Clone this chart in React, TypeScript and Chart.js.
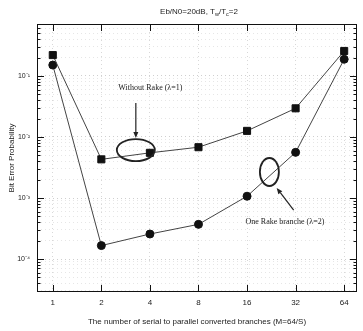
import React, { useEffect, useRef } from 'react';
import { Chart, registerables } from 'chart.js';

Chart.register(...registerables);

// ---- data ----
const categories = ['1', '2', '4', '8', '16', '32', '64'];
const withoutRake = [0.22, 4.3e-3, 5.5e-3, 6.8e-3, 0.0126, 0.0295, 0.257];
const oneRake = [0.151, 1.66e-4, 2.57e-4, 3.7e-4, 1.07e-3, 5.6e-3, 0.188];
const yDecades = [1e-1, 1e-2, 1e-3, 1e-4];
const yDecadeLabels = ['10⁻¹', '10⁻²', '10⁻³', '10⁻⁴'];
const seriesNames = ['Without Rake (λ=1)', 'One Rake branche (λ=2)'];
const xTitle = 'The number of serial to parallel converted branches (M=64/S)';
const yTitle = 'Bit Error Probability';

const Y_MIN = 2.88e-5;
const Y_MAX = 0.711;
const X_MIN = -0.325;
const X_MAX = 6.264;

const SANS = '"Liberation Sans", Arial, sans-serif';
const SERIF = '"Liberation Serif", "Times New Roman", serif';

function minorTicks(): number[] {
  const out: number[] = [];
  for (let e = -5; e <= 0; e++) {
    for (let m = 1; m <= 9; m++) {
      const v = m * Math.pow(10, e);
      if (v >= Y_MIN && v <= Y_MAX) out.push(v);
    }
  }
  return out;
}

function isDecade(v: number) {
  const l = Math.log10(v);
  return Math.abs(l - Math.round(l)) < 1e-6;
}

const decorPlugin = {
  id: 'decor',
  afterDatasetsDraw(chart: any) {
    const { ctx, chartArea } = chart;
    const xs = chart.scales.x;
    const ys = chart.scales.y;
    const { left, right, top, bottom } = chartArea;
    ctx.save();
    // frame
    ctx.strokeStyle = '#111';
    ctx.lineWidth = 1;
    ctx.strokeRect(left + 0.5, top + 0.5, right - left - 1, bottom - top - 1);
    // inward ticks
    ctx.beginPath();
    minorTicks().forEach((v) => {
      const y = Math.round(ys.getPixelForValue(v)) + 0.5;
      const len = isDecade(v) ? 7 : 3.5;
      ctx.moveTo(left, y);
      ctx.lineTo(left + len, y);
      ctx.moveTo(right, y);
      ctx.lineTo(right - len, y);
    });
    categories.forEach((_, i) => {
      const x = Math.round(xs.getPixelForValue(i)) + 0.5;
      ctx.moveTo(x, bottom);
      ctx.lineTo(x, bottom - 7);
      ctx.moveTo(x, top);
      ctx.lineTo(x, top + 7);
    });
    ctx.stroke();

    const P = (xi: number, yv: number) => [xs.getPixelForValue(xi), ys.getPixelForValue(yv)];

    // annotation 1: Without Rake
    ctx.strokeStyle = '#222';
    ctx.fillStyle = '#222';
    ctx.lineWidth = 1.8;
    let [cx, cy] = P(1.71, 6.1e-3);
    ctx.beginPath();
    ctx.ellipse(cx, cy, 19, 11, 0, 0, Math.PI * 2);
    ctx.stroke();
    let [ax0, ay0] = P(1.71, 0.036);
    let [ax1, ay1] = P(1.71, 9.6e-3);
    drawArrow(ctx, ax0, ay0, ax1, ay1);

    // annotation 2: One Rake branche
    ctx.lineWidth = 1.8;
    [cx, cy] = P(4.46, 2.67e-3);
    ctx.beginPath();
    ctx.ellipse(cx, cy, 9.5, 14, 0, 0, Math.PI * 2);
    ctx.stroke();
    [ax0, ay0] = P(4.96, 6.35e-4);
    [ax1, ay1] = P(4.61, 1.46e-3);
    drawArrow(ctx, ax0, ay0, ax1, ay1);

    // texts
    ctx.fillStyle = '#222';
    ctx.font = `8px ${SERIF}`;
    ctx.textAlign = 'center';
    ctx.textBaseline = 'middle';
    let [tx, ty] = P(2.01, 0.0636);
    ctx.fillText(seriesNames[0], tx, ty);
    [tx, ty] = P(4.78, 4.05e-4);
    ctx.fillText(seriesNames[1], tx, ty);

    // title with subscripts
    const parts: [string, boolean][] = [
      ['Eb/N0=20dB, T', false],
      ['w', true],
      ['/T', false],
      ['c', true],
      ['=2', false],
    ];
    const fMain = `8px ${SANS}`;
    const fSub = `5.5px ${SANS}`;
    let total = 0;
    parts.forEach(([t, s]) => {
      ctx.font = s ? fSub : fMain;
      total += ctx.measureText(t).width;
    });
    let x = (left + right) / 2 + 2 - total / 2;
    const yT = 12;
    ctx.textAlign = 'left';
    ctx.textBaseline = 'middle';
    ctx.fillStyle = '#222';
    parts.forEach(([t, s]) => {
      ctx.font = s ? fSub : fMain;
      ctx.fillText(t, x, s ? yT + 2.5 : yT);
      x += ctx.measureText(t).width;
    });
    ctx.restore();
  },
};

function drawArrow(ctx: CanvasRenderingContext2D, x0: number, y0: number, x1: number, y1: number) {
  ctx.lineWidth = 1.2;
  const ang = Math.atan2(y1 - y0, x1 - x0);
  const hl = 6;
  const hw = 2.5;
  const bx = x1 - hl * Math.cos(ang);
  const by = y1 - hl * Math.sin(ang);
  ctx.beginPath();
  ctx.moveTo(x0, y0);
  ctx.lineTo(bx, by);
  ctx.stroke();
  ctx.beginPath();
  ctx.moveTo(x1, y1);
  ctx.lineTo(bx + hw * Math.sin(ang), by - hw * Math.cos(ang));
  ctx.lineTo(bx - hw * Math.sin(ang), by + hw * Math.cos(ang));
  ctx.closePath();
  ctx.fill();
}

export default function App() {
  const ref = useRef<HTMLCanvasElement | null>(null);
  useEffect(() => {
    document.body.style.margin = '0';
    const canvas = ref.current;
    if (!canvas) return;
    const chart = new Chart(canvas, {
      type: 'line',
      data: {
        datasets: [
          {
            label: seriesNames[0],
            data: withoutRake.map((v, i) => ({ x: i, y: v })),
            borderColor: '#444',
            borderWidth: 1,
            pointStyle: 'rect',
            pointRadius: 5,
            pointBackgroundColor: '#111',
            pointBorderColor: '#111',
            pointBorderWidth: 1,
            tension: 0,
          },
          {
            label: seriesNames[1],
            data: oneRake.map((v, i) => ({ x: i, y: v })),
            borderColor: '#444',
            borderWidth: 1,
            pointStyle: 'circle',
            pointRadius: 4,
            pointBackgroundColor: '#111',
            pointBorderColor: '#111',
            pointBorderWidth: 1,
            tension: 0,
          },
        ],
      },
      options: {
        animation: false,
        responsive: true,
        maintainAspectRatio: false,
        layout: { padding: { top: 24, right: 2, left: 0, bottom: 0 } },
        plugins: {
          legend: { display: false },
          tooltip: { enabled: false },
          title: { display: false },
        },
        scales: {
          x: {
            type: 'linear',
            min: X_MIN,
            max: X_MAX,
            afterBuildTicks: (scale: any) => {
              scale.ticks = categories.map((_, i) => ({ value: i }));
            },
            afterFit: (scale: any) => {
              scale.height = 39;
            },
            ticks: {
              callback: (v: any) => categories[Math.round(Number(v))] ?? '',
              font: { family: SANS, size: 8 },
              color: '#222',
              padding: 6,
              autoSkip: false,
              maxRotation: 0,
            },
            grid: {
              drawTicks: false,
              color: '#d8d8d8',
              lineWidth: 1,
            },
            border: { display: false, dash: [1, 3] },
            title: {
              display: true,
              text: xTitle,
              font: { family: SANS, size: 8 },
              color: '#222',
              padding: { top: 0, bottom: 4 },
            },
          },
          y: {
            type: 'logarithmic',
            min: Y_MIN,
            max: Y_MAX,
            afterBuildTicks: (scale: any) => {
              scale.ticks = minorTicks().map((v) => ({ value: v, major: isDecade(v) }));
            },
            afterFit: (scale: any) => {
              scale.width = 37;
            },
            ticks: {
              callback: (v: any) => {
                const idx = yDecades.findIndex((d) => Math.abs(d - Number(v)) / d < 1e-6);
                return idx >= 0 ? yDecadeLabels[idx] : '';
              },
              font: { family: SANS, size: 7 },
              color: '#222',
              padding: 7,
              autoSkip: false,
            },
            grid: {
              drawTicks: false,
              color: (c: any) => (c.tick && c.tick.major ? '#cfcfcf' : '#e6e6e6'),
              lineWidth: 1,
            },
            border: { display: false, dash: [1, 3] },
            title: {
              display: true,
              text: yTitle,
              font: { family: SANS, size: 8 },
              color: '#222',
              padding: { top: 7, bottom: 0 },
            },
          },
        },
      },
      plugins: [decorPlugin],
    });
    return () => chart.destroy();
  }, []);
  return (
    <div style={{ width: 363, height: 331, position: 'relative', background: '#fff' }}>
      <canvas ref={ref} />
    </div>
  );
}
